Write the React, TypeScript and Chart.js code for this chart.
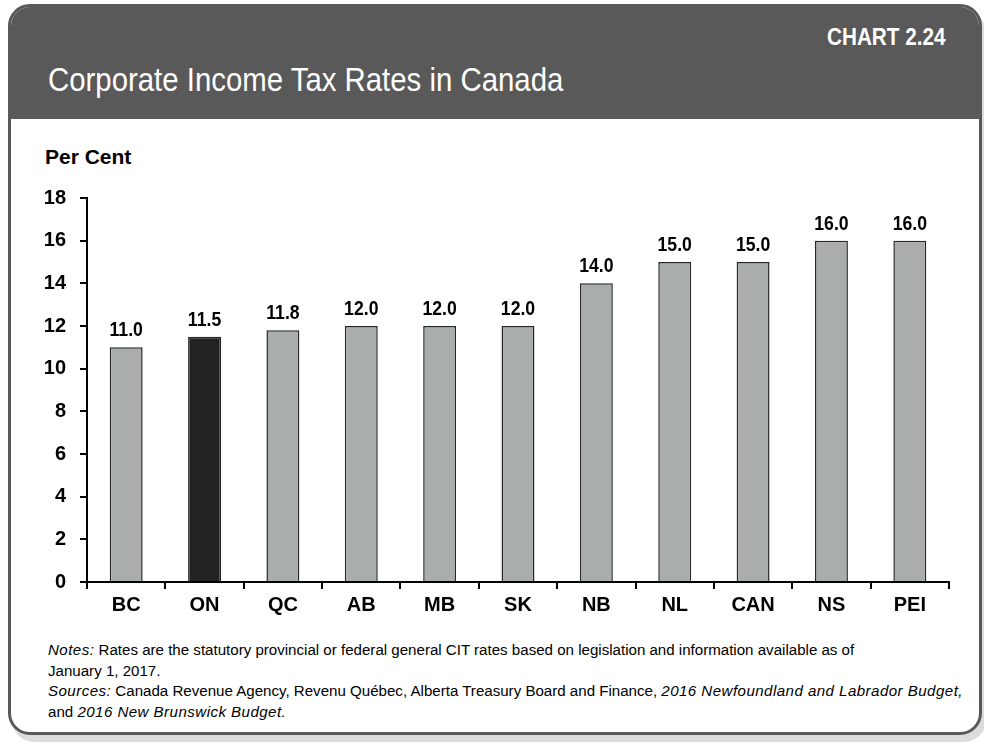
import React, { useEffect, useRef } from "react";
import { Chart, registerables } from "chart.js";

Chart.register(...registerables);

const categories = ["BC", "ON", "QC", "AB", "MB", "SK", "NB", "NL", "CAN", "NS", "PEI"];
const rates = [11.0, 11.5, 11.8, 12.0, 12.0, 12.0, 14.0, 15.0, 15.0, 16.0, 16.0];
const highlight = "ON";
const yTicks = [0, 2, 4, 6, 8, 10, 12, 14, 16, 18];

const FONT = "'Liberation Sans Narrow', 'Arial Narrow', 'Liberation Sans', Arial, sans-serif";

const valueLabels = {
  id: "valueLabels",
  afterDatasetsDraw(chart: any) {
    const ctx = chart.ctx;
    const meta = chart.getDatasetMeta(0);
    ctx.save();
    ctx.font = `bold 21px ${FONT}`;
    ctx.fillStyle = "#000";
    ctx.textAlign = "center";
    ctx.textBaseline = "alphabetic";
    meta.data.forEach((bar: any, i: number) => {
      const v = chart.data.datasets[0].data[i];
      ctx.save();
      ctx.translate(bar.x, bar.y - 11);
      ctx.scale(0.84, 1);
      ctx.fillText(Number(v).toFixed(1), 0, 0);
      ctx.restore();
    });
    ctx.restore();
  },
};

export default function App() {
  const ref = useRef<HTMLCanvasElement | null>(null);
  useEffect(() => {
    if (!ref.current) return;
    const chart = new Chart(ref.current, {
      type: "bar",
      data: {
        labels: categories,
        datasets: [
          {
            data: rates,
            backgroundColor: categories.map((c) => (c === highlight ? "#222222" : "#a9aeac")),
            borderColor: "#262626",
            borderWidth: 1.5,
            barPercentage: 0.42,
            categoryPercentage: 1,
          },
        ],
      },
      options: {
        animation: false,
        responsive: false,
        maintainAspectRatio: false,
        layout: { padding: { left: 0, top: 78, right: 29, bottom: 0 } },
        plugins: { legend: { display: false }, tooltip: { enabled: false }, title: { display: false } },
        scales: {
          x: {
            afterFit(scale: any) {
              scale.height = 58;
            },
            grid: { offset: true, drawOnChartArea: false, color: "#000", tickLength: 7, lineWidth: 2 },
            border: { display: true, color: "#000", width: 2 },
            ticks: { color: "#000", font: { family: FONT, size: 20, weight: "bold" }, padding: 4 },
          },
          y: {
            min: 0,
            max: 18,
            afterFit(scale: any) {
              scale.width = 75;
            },
            afterBuildTicks(scale: any) {
              scale.ticks = yTicks.map((v) => ({ value: v }));
            },
            grid: { drawOnChartArea: false, color: "#000", tickLength: 7, lineWidth: 2 },
            border: { display: true, color: "#000", width: 2 },
            ticks: { color: "#000", font: { family: FONT, size: 20, weight: "bold" }, padding: 14 },
          },
        },
      },
      plugins: [valueLabels],
    });
    return () => chart.destroy();
  }, []);

  const text: React.CSSProperties = { position: "absolute", fontFamily: FONT, color: "#000", whiteSpace: "nowrap" };
  const it: React.CSSProperties = { fontStyle: "italic", letterSpacing: "0.45px" };

  return (
    <div style={{ position: "fixed", left: 0, top: 0, width: 984, height: 745, background: "#fff", overflow: "hidden" }}>
      <div
        style={{
          position: "absolute",
          left: 8,
          top: 4,
          width: 968,
          height: 725,
          border: "3px solid #595959",
          borderRadius: 22,
          background: "#fff",
          boxShadow: "4px 7px 0 #dcdcdc",
          overflow: "hidden",
        }}
      >
        <div style={{ position: "absolute", left: 0, top: 0, width: 968, height: 112, background: "#595959" }} />
      </div>
      <div
        style={{
          ...text,
          left: 48,
          top: 61,
          fontSize: 33,
          color: "#fff",
          lineHeight: "38px",
          transform: "scaleX(0.89)",
          transformOrigin: "left top",
        }}
      >
        Corporate Income Tax Rates in Canada
      </div>
      <div
        style={{
          ...text,
          left: 827,
          top: 24,
          fontSize: 23,
          color: "#fff",
          fontWeight: "bold",
          lineHeight: "26px",
          transform: "scaleX(0.9)",
          transformOrigin: "left top",
        }}
      >
        CHART 2.24
      </div>
      <div style={{ ...text, left: 45, top: 144, fontSize: 21, fontWeight: "bold", lineHeight: "26px" }}>Per Cent</div>
      <canvas ref={ref} width={966} height={520} style={{ position: "absolute", left: 12, top: 120, width: 966, height: 520 }} />
      <div style={{ ...text, left: 48, top: 640, width: 930, fontSize: 15.1, lineHeight: "20.5px" }}>
        <span style={it}>Notes:</span> Rates are the statutory provincial or federal general CIT rates based on legislation and information available as of
        <br />
        January 1, 2017.
        <br />
        <span style={it}>Sources:</span> Canada Revenue Agency, Revenu Québec, Alberta Treasury Board and Finance,{" "}
        <span style={it}>2016 Newfoundland and Labrador Budget,</span>
        <br />
        and <span style={it}>2016 New Brunswick Budget.</span>
      </div>
    </div>
  );
}
